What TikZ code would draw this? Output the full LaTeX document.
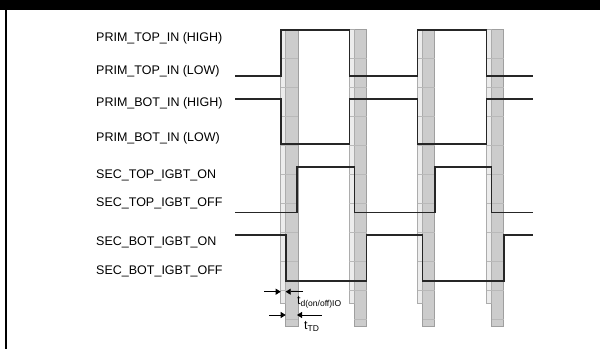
\documentclass[tikz,border=0pt]{standalone}
\usepackage{fontspec}
\setmainfont{Liberation Sans}
\usetikzlibrary{arrows.meta}
\tikzset{
  sig/.style={line width=1.6pt,black!85},
  lbl/.style={anchor=base west,inner sep=0pt,font=\fontsize{12.5}{14}\selectfont},
  tdbar/.style={draw=gray!65,fill=gray!15,line width=0.7pt},
  ttdbar/.style={draw=gray!75,fill=gray!40,line width=0.7pt},
  dim/.style={line width=0.8pt,-{Triangle[length=5pt,width=6pt]}}
}
\newcommand{\subtxt}[1]{\raisebox{-2pt}{\fontsize{8.5}{9}\selectfont #1}}

\begin{document}
\begin{tikzpicture}[x=1pt,y=-1pt]
\useasboundingbox (0,0) rectangle (600,349);
\fill (0,0) rectangle (600,10);
\draw[line width=2pt] (6,10) -- (6,349);
\node[lbl] (pth) at (96,41) {PRIM\_TOP\_IN (HIGH)};
\node[lbl] (ptl) at (96,74) {PRIM\_TOP\_IN (LOW)};
\node[lbl] (pbh) at (96,106) {PRIM\_BOT\_IN (HIGH)};
\node[lbl] (pbl) at (96,141) {PRIM\_BOT\_IN (LOW)};
\node[lbl] (ston) at (96,178.3) {SEC\_TOP\_IGBT\_ON};
\node[lbl] (stoff) at (96,206.7) {SEC\_TOP\_IGBT\_OFF};
\node[lbl] (sbon) at (96,245) {SEC\_BOT\_IGBT\_ON};
\node[lbl] (sboff) at (96,274.5) {SEC\_BOT\_IGBT\_OFF};
\foreach \e in {280.7,349.3,417.5,486.5}{
  \draw[ttdbar] (\e+5,29.5) rectangle (\e+17.3,326);
  \draw[tdbar] (\e,29.5) rectangle (\e+5,303);
  \foreach \k in {1,...,9}
    \draw[gray!55,line width=0.4pt] (\e,29.5+29*\k) -- (\e+17.3,29.5+29*\k);
  \draw[gray!55,line width=0.4pt] (\e+5,319.5) -- (\e+17.3,319.5);
}
\draw[sig] (235,75.7) -| (280.7,30) -| (349.3,75.7) -| (417.5,30) -| (486.5,75.7) -- (532.7,75.7);
\draw[sig] (235,98.7) -| (280.7,144) -| (349.3,98.7) -| (417.5,144) -| (486.5,98.7) -- (532.7,98.7);
\draw[sig] (235,212.3) -| (297,166.7) -| (354.3,212.3) -| (435,166.7) -| (491.5,212.3) -- (532.7,212.3);
\draw[sig] (235,235) -| (285.7,280.7) -| (366.5,235) -| (422.5,280.7) -| (504,235) -- (532.7,235);
\coordinate (tda) at (264,291.7);
\coordinate (tdb) at (280.7,291.7);
\coordinate (tdc) at (285.7,291.7);
\coordinate (tdd) at (303,291.7);
\draw[dim] (tda) -- (tdb);
\draw[dim] (tdd) -- (tdc);
\coordinate (tta) at (269,315);
\coordinate (ttb) at (285.7,315);
\coordinate (ttc) at (297,315);
\coordinate (ttd) at (321.7,315);
\draw[dim] (tta) -- (ttb);
\draw[dim] (ttd) -- (ttc);
\node[lbl] (tdlbl) at (297,304) {t\subtxt{d(on/off)IO}};
\node[lbl] (ttdlbl) at (304,329) {t\subtxt{TD}};
\end{tikzpicture}
\end{document}
